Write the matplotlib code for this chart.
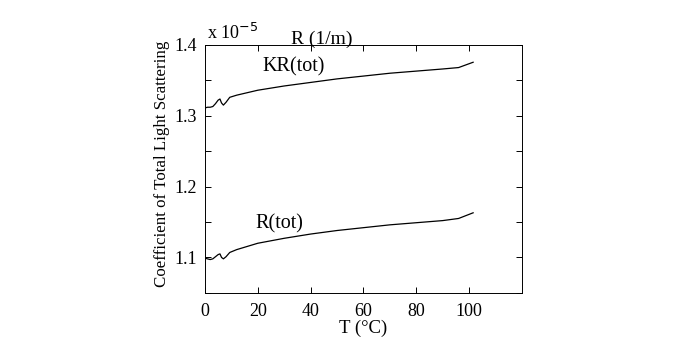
import numpy as np
import matplotlib.pyplot as plt

plt.rcParams['font.family'] = ['Liberation Serif', 'DejaVu Serif']

# temperature (deg C) and scattering coefficients (x 1e-5 1/m)
T = [0, 1, 2, 3, 4, 5, 5.7, 6.3, 7, 8, 9.4, 12, 20, 30, 40, 50, 60, 70, 80, 90, 96, 101.5]
KR_tot = [1.311, 1.312, 1.312, 1.313, 1.317, 1.322, 1.3236, 1.318, 1.315, 1.319,
          1.326, 1.329, 1.336, 1.342, 1.347, 1.352, 1.356, 1.360, 1.363, 1.366,
          1.368, 1.3755]
R_tot = [1.099, 1.098, 1.097, 1.098, 1.101, 1.104, 1.105, 1.100, 1.098, 1.101,
         1.107, 1.111, 1.120, 1.127, 1.133, 1.138, 1.142, 1.146, 1.149, 1.152,
         1.155, 1.163]

yticks = [1.05, 1.1, 1.15, 1.2, 1.25, 1.3, 1.35, 1.4]
yticklabels = ['', '1.1', '', '1.2', '', '1.3', '', '1.4']
xticks = [0, 20, 40, 60, 80, 100]

fig = plt.figure(figsize=(6.74, 3.62), dpi=100)
ax = fig.add_axes([0.304, 0.191, 0.4705, 0.685])

ax.plot(T, KR_tot, color='black', lw=0.9)
ax.plot(T, R_tot, color='black', lw=0.9)

ax.set_xlim(0, 120)
ax.set_ylim(1.05, 1.4)
ax.set_xticks(xticks)
ax.set_yticks(yticks)
ax.set_yticklabels(yticklabels)
ax.tick_params(direction='in', top=True, right=True, labelsize=13, length=4, width=0.7)
ax.tick_params(axis='x', pad=7)
ax.tick_params(axis='y', pad=6)
for s in ax.spines.values():
    s.set_linewidth(0.7)

ax.text(33.4, 1.369, 'KR(tot)', fontsize=14.5, ha='center', va='center')
ax.text(28.3, 1.148, 'R(tot)', fontsize=14.5, ha='center', va='center')
ax.text(0.8, 1.403, r'x 10$^{\mathrm{-5}}$', fontsize=13, ha='left', va='bottom')
ax.set_title('R (1/m)', fontsize=14, pad=1, x=0.37)
ax.set_xlabel('T (°C)', fontsize=13.5, labelpad=0)
ax.set_ylabel('Coefficient of Total Light Scattering', fontsize=12.2)
ax.yaxis.set_label_coords(-0.11, 0.52)

fig.savefig('out.png', dpi=100)
